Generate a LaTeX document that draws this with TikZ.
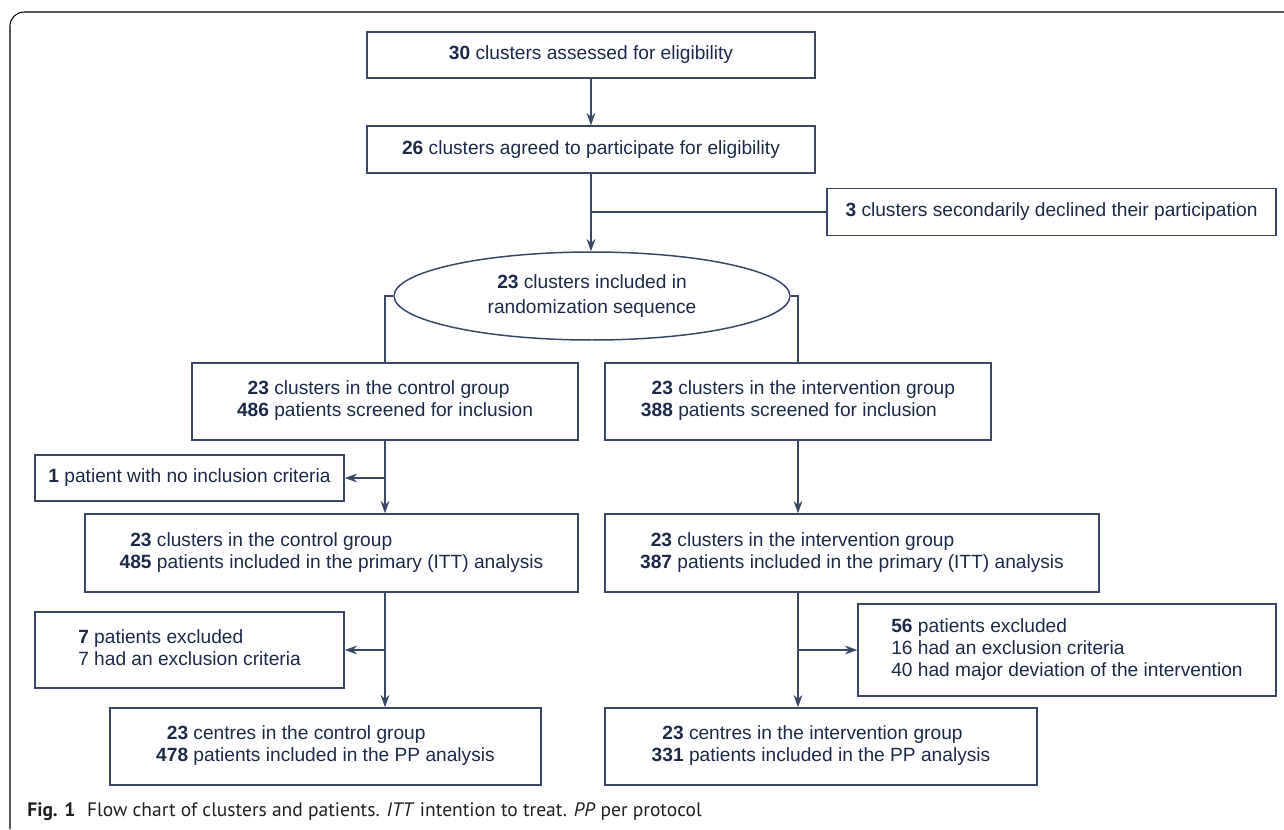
\documentclass[tikz,border=0pt]{standalone}
\usepackage{fontspec}
\setmainfont{Liberation Sans}
\newfontfamily\capfont{PT Sans}
\usetikzlibrary{positioning,shapes.geometric,arrows.meta}
\definecolor{navytext}{RGB}{28,42,72}
\definecolor{navyline}{RGB}{58,72,102}
\definecolor{capgray}{RGB}{35,31,32}
\newcommand{\tworow}[4]{\begin{tabular}{@{}r@{ }l@{}}\textbf{#1} & #2\\ \textbf{#3} & #4\end{tabular}}

\begin{document}
\begin{tikzpicture}[
    x=0.02cm, y=-0.02cm,
    font=\fontsize{10.9}{12.5}\selectfont,
    box/.style={draw=navyline, line width=0.85pt, rectangle, text=navytext,
                inner sep=0pt, align=center},
    flow/.style={draw=navyline, line width=0.85pt},
    arr/.style={flow, -{Stealth[length=7pt, width=5pt]}},
  ]
    \useasboundingbox (0,0) rectangle (1284,829);
    % outer frame of the figure
    \draw[line width=0.6pt, rounded corners=8pt] (10,829) -- (10,12) -- (1284,12);

    % Top: clusters
    \node[box, minimum width=8.96cm, minimum height=0.92cm] (assess) at (591,55)
      {\textbf{30} clusters assessed for eligibility};
    \node[box, minimum width=8.96cm, minimum height=0.94cm] (agree) at (591,149.5)
      {\textbf{26} clusters agreed to participate for eligibility};
    \node[box, minimum width=8.98cm, minimum height=0.94cm] (decline) at (1051.5,212)
      {\textbf{3} clusters secondarily declined their participation};
    \node[box, ellipse, minimum width=7.92cm, minimum height=1.76cm] (random) at (592,296)
      {\textbf{23} clusters included in\\[2pt]randomization sequence};

    \draw[arr] (assess) -- (agree);
    \draw[arr] (agree.south) -- (agree.south |- random.north);
    \coordinate (split) at (agree.south |- decline.west);
    \draw[flow] (split) -- (decline.west);

    % Control arm (left)
    \node[box, minimum width=7.72cm, minimum height=1.54cm] (ctrlA) at (385,401.5)
      {\tworow{23}{clusters in the control group}{486}{patients screened for inclusion}};
    \node[box, minimum width=6.18cm, minimum height=0.92cm] (noinc) at (189.5,478)
      {\textbf{1} patient with no inclusion criteria};
    \node[box, minimum width=9.86cm, minimum height=1.56cm] (ctrlB) at (331.5,553)
      {\tworow{23}{clusters in the control group}{485}{patients included in the primary (ITT) analysis}};
    \node[box, minimum width=6.18cm, minimum height=1.52cm] (ctrlX) at (189.5,650)
      {\begin{tabular}{@{}r@{ }l@{}}\textbf{7} & patients excluded\\ 7 & had an exclusion criteria\end{tabular}};
    \node[box, minimum width=8.62cm, minimum height=1.54cm] (ctrlC) at (325.5,746.5)
      {\tworow{23}{centres in the control group}{478}{patients included in the PP analysis}};

    % Intervention arm (right)
    \node[box, minimum width=7.72cm, minimum height=1.54cm] (intA) at (798,401.5)
      {\tworow{23}{clusters in the intervention group}{388}{patients screened for inclusion}};
    \node[box, minimum width=9.88cm, minimum height=1.56cm] (intB) at (852,553)
      {\tworow{23}{clusters in the intervention group}{387}{patients included in the primary (ITT) analysis}};
    \node[box, minimum width=8.36cm, minimum height=1.84cm] (intX) at (1067,650)
      {\begin{tabular}{@{}r@{ }l@{}}\textbf{56} & patients excluded\\ 16 & had an exclusion criteria\\ 40 & had major deviation of the intervention\end{tabular}};
    \node[box, minimum width=8.64cm, minimum height=1.54cm] (intC) at (821,746.5)
      {\tworow{23}{centres in the intervention group}{331}{patients included in the PP analysis}};

    % randomization to both arms
    \draw[flow] (random.west) -| (ctrlA.north);
    \draw[flow] (random.east) -| (intA.north);

    % control arm connectors
    \draw[arr] (ctrlA.south) -- (ctrlA.south |- ctrlB.north);
    \draw[arr] (ctrlA.south |- noinc.east) -- (noinc.east);
    \draw[arr] (ctrlA.south |- ctrlB.south) -- (ctrlA.south |- ctrlC.north);
    \draw[arr] (ctrlA.south |- ctrlX.east) -- (ctrlX.east);

    % intervention arm connectors
    \draw[arr] (intA.south) -- (intA.south |- intB.north);
    \draw[arr] (intA.south |- intB.south) -- (intA.south |- intC.north);
    \draw[arr] (intA.south |- intX.west) -- (intX.west);

    % caption
    \node[anchor=base west, inner sep=0pt, text=capgray, font=\capfont\fontsize{11.1}{12}\selectfont] (caption) at (27,816)
      {\textbf{Fig. 1}\hspace{0.6em}Flow chart of clusters and patients. \textit{ITT} intention to treat. \textit{PP} per protocol};
\end{tikzpicture}
\end{document}
